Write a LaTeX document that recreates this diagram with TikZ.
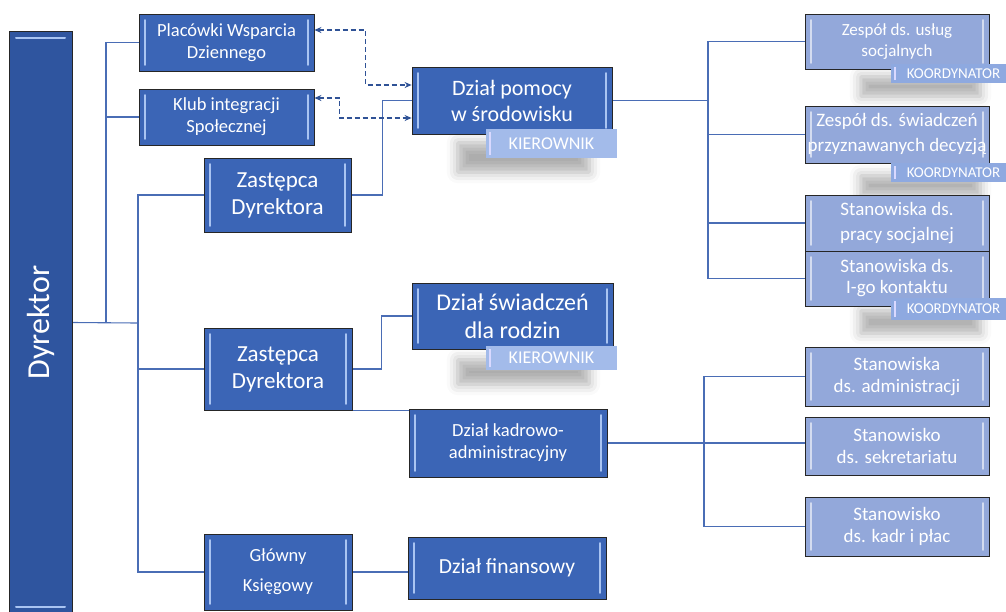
\documentclass[tikz,border=0pt]{standalone}
\usepackage{fontspec}
\setmainfont{Carlito}
\usetikzlibrary{arrows.meta,shadows.blur,backgrounds}
\definecolor{dk}{HTML}{3B65B6}
\definecolor{dyrc}{HTML}{2F559F}
\definecolor{lt}{HTML}{93A8DA}
\definecolor{tagk}{HTML}{A3BBEA}
\definecolor{tagc}{HTML}{8EA9E0}
\definecolor{hl}{HTML}{A9C4F2}
\definecolor{ln}{HTML}{4A6DB5}
\definecolor{dashc}{HTML}{2F5296}
\tikzset{
 box/.style={draw=black!85, line width=0.8pt, rectangle, align=center, text=white, inner sep=0pt},
 vbevel/.style={path picture={
   \draw[#1, line width=1.6pt, line cap=round] ([xshift=6pt,yshift=-6pt]path picture bounding box.north west) -- ([xshift=6pt,yshift=6pt]path picture bounding box.south west);
   \draw[#1, line width=1.6pt, line cap=round] ([xshift=-6pt,yshift=-6pt]path picture bounding box.north east) -- ([xshift=-6pt,yshift=6pt]path picture bounding box.south east);
 }},
 hbevel/.style={path picture={
   \draw[#1, line width=2pt, line cap=round] ([xshift=7pt,yshift=-7pt]path picture bounding box.north west) -- ([xshift=-7pt,yshift=-7pt]path picture bounding box.north east);
   \draw[#1, line width=2pt, line cap=round] ([xshift=7pt,yshift=7pt]path picture bounding box.south west) -- ([xshift=-7pt,yshift=7pt]path picture bounding box.south east);
 }},
 dbox/.style={box, fill=dk, vbevel=hl, font=\fontsize{23}{27}\selectfont},
 lbox/.style={box, fill=lt, vbevel=white!60!lt, font=\fontsize{19}{22}\selectfont},
 tagbase/.style={rectangle, draw=none, text=white, inner sep=0pt, path picture={\draw[white!85!blue, line width=1.6pt] ([xshift=4pt,yshift=-3pt]path picture bounding box.north west) -- ([xshift=4pt,yshift=3pt]path picture bounding box.south west);}},
 ktag/.style={tagbase, fill=tagk, font=\fontsize{18}{20}\selectfont},
 ctag/.style={tagbase, fill=tagc, font=\fontsize{15}{17}\selectfont},
 shd/.style={blur shadow={shadow xshift=0pt, shadow yshift=0pt, shadow blur radius=11pt, shadow opacity=32}},
 conn/.style={draw=ln, line width=1.1pt},
 darr/.style={draw=dashc, line width=1.3pt, dash pattern=on 5pt off 3pt, {Stealth[length=7pt,width=6pt]}-{Stealth[length=7pt,width=6pt]}},
}
\begin{document}
\begin{tikzpicture}[x=1pt,y=-1pt]
\useasboundingbox (0,0) rectangle (1006,611);
% left column
\node[box, fill=dyrc, hbevel=hl, minimum width=63pt, minimum height=583pt] (dyr) at (40.5,322.5) {\rotatebox{90}{\fontsize{32}{38}\selectfont Dyrektor}};
\node[dbox, font=\fontsize{18.5}{22}\selectfont, minimum width=175pt, minimum height=57pt] (plac) at (226.5,42.5) {Placówki Wsparcia\\Dziennego};
\node[dbox, font=\fontsize{18.5}{22}\selectfont, minimum width=175pt, minimum height=56pt] (klub) at (226.5,117) {Klub integracji\\Społecznej};
\node[dbox, minimum width=147pt, minimum height=74pt] (zas1) at (277.5,195) {Zastępca\\Dyrektora};
\node[dbox, minimum width=148pt, minimum height=82pt] (zas2) at (278,369) {Zastępca\\Dyrektora};
\node[dbox, font=\fontsize{18.5}{30}\selectfont, minimum width=148pt, minimum height=76pt] (glow) at (278,572) {Główny\\Księgowy};
% middle column
\node[dbox, font=\fontsize{22}{26}\selectfont, minimum width=200pt, minimum height=67pt] (pom) at (512,100.5) {Dział pomocy\\w środowisku};
\node[dbox, font=\fontsize{24}{28}\selectfont, minimum width=201pt, minimum height=66pt] (swi) at (512.5,316) {Dział świadczeń\\dla rodzin};
\node[dbox, font=\fontsize{18.5}{22}\selectfont, minimum width=198pt, minimum height=68pt] (kad) at (508,443) {Dział kadrowo-\\administracyjny};
\node[dbox, font=\fontsize{21.5}{25}\selectfont, minimum width=198pt, minimum height=62pt] (fin) at (507,568) {Dział finansowy};
% right column
\node[lbox, font=\fontsize{17}{21}\selectfont, minimum width=184pt, minimum height=55pt] (zus) at (897,41.5) {Zespół ds. usług\\socjalnych};
\node[lbox, font=\fontsize{19}{25}\selectfont, minimum width=184pt, minimum height=57pt] (zsw) at (897,134.5) {Zespół ds. świadczeń\\przyznawanych decyzją};
\node[lbox, font=\fontsize{19}{25}\selectfont, minimum width=184pt, minimum height=56pt] (spr) at (897,223) {Stanowiska ds.\\pracy socjalnej};
\node[lbox, font=\fontsize{19}{21}\selectfont, minimum width=184pt, minimum height=55pt] (sik) at (897,278.5) {Stanowiska ds.\\I-go kontaktu};
\node[lbox, minimum width=184pt, minimum height=59pt] (sad) at (897,376.5) {Stanowiska\\ds. administracji};
\node[lbox, minimum width=184pt, minimum height=58pt] (sse) at (897,446) {Stanowisko\\ds. sekretariatu};
\node[lbox, minimum width=184pt, minimum height=59pt] (skp) at (897,526.5) {Stanowisko\\ds. kadr i płac};
% tags
\node[ktag, minimum width=131pt, minimum height=29pt] (pomK) at (551.5,143.5) {KIEROWNIK};
\node[ktag, minimum width=131pt, minimum height=24pt] (swiK) at (551.5,358) {KIEROWNIK};
\node[ctag, minimum width=125pt, minimum height=19pt] (zusK) at (953.5,73.5) {KOORDYNATOR};
\node[ctag, minimum width=125pt, minimum height=19pt] (zswK) at (953.5,172.5) {KOORDYNATOR};
\node[ctag, minimum width=125pt, minimum height=22pt] (sikK) at (953.5,309) {KOORDYNATOR};
% shadows
\begin{scope}[on background layer]
\path[shd] ([xshift=-28pt,yshift=-14pt]pomK.south west) rectangle ([xshift=-28pt,yshift=-14pt]pomK.north east);
\path[shd] ([xshift=-28pt,yshift=-14pt]swiK.south west) rectangle ([xshift=-28pt,yshift=-14pt]swiK.north east);
\path[shd] ([xshift=-30pt,yshift=-13pt]zusK.south west) rectangle ([xshift=-36pt,yshift=-13pt]zusK.north east);
\path[shd] ([xshift=-30pt,yshift=-13pt]zswK.south west) rectangle ([xshift=-36pt,yshift=-13pt]zswK.north east);
\path[shd] ([xshift=-30pt,yshift=-13pt]sikK.south west) rectangle ([xshift=-36pt,yshift=-13pt]sikK.north east);
% connectors
\coordinate (tA) at (106,323);
\coordinate (tB) at (138,323);
\coordinate (tC) at (708,101);
\coordinate (tD) at (704,443);
\draw[conn] (dyr.east) -- (tB);
\draw[conn] (plac.west) -| (tA);
\draw[conn] (klub.west) -- (klub.west -| tA);
\draw[conn] (zas1.west) -| (tB);
\draw[conn] (glow.west) -| (tB);
\draw[conn] (zas2.west) -- (zas2.west -| tB);
\draw[conn] (zas1.east) -- ++(31,0) |- (pom.west);
\draw[conn] (zas2.east) -- ++(29,0) |- (swi.west);
\draw[conn] (zas2.south east) -- (zas2.south east -| kad.west);
\draw[conn] (glow.east) -- (glow.east -| fin.west);
\draw[conn] (pom.east) -- (pom.east -| tC);
\draw[conn] (zus.west) -| (sik.west -| tC) -- (sik.west);
\draw[conn] (zsw.west) -- (zsw.west -| tC);
\draw[conn] (spr.west) -- (spr.west -| tC);
\draw[conn] (kad.east) -- (kad.east -| sse.west);
\draw[conn] (sad.west) -| (skp.west -| tD) -- (skp.west);
\end{scope}
\draw[darr] ([yshift=12.5pt]plac.east) -- ++(51,0) |- ([yshift=15.5pt]pom.west);
\draw[darr] ([yshift=19pt]klub.east) -- ++(25,0) |- ([yshift=-17.5pt]pom.west);
\end{tikzpicture}
\end{document}
